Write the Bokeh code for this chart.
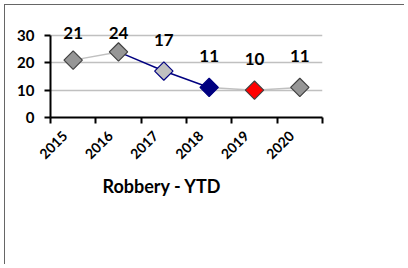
import numpy as np
from bokeh.plotting import figure
from bokeh.models import Range1d, FixedTicker, Title, CustomJSTickFormatter
from bokeh.core.properties import value
from bokeh.embed import file_html
from bokeh.resources import INLINE

years = ["2015", "2016", "2017", "2018", "2019", "2020"]
robbery = [21, 24, 17, 11, 10, 11]
y_ticks = [0, 10, 20, 30]

marker_fill = ["#969696", "#969696", "#C0C0C0", "#000080", "#FF0000", "#969696"]
marker_line = ["#404040", "#404040", "#000080", "#000080", "#404040", "#404040"]
segment_colors = ["#C0C0C0", "#000080", "#000080", "#C0C0C0", "#C0C0C0"]

FONT = "Lato"
n = len(years)
x = np.arange(n) + 0.5
vals = np.array(robbery, dtype=float)

W, H = 400, 260
p = figure(width=W, height=H, output_backend="svg", toolbar_location=None,
           x_range=Range1d(0, n), y_range=Range1d(0, 35.5),
           min_border_left=45, min_border_right=W - 317, min_border_top=15,
           min_border_bottom=H - 112,
           styles={"margin": "4px 0 0 4px",
                   "border-top": "1px solid #666666", "border-left": "1px solid #666666"})
p.outline_line_color = None
p.background_fill_color = "white"
p.border_fill_color = "white"

# x axis (labels sit slightly left of the category centre, as in the original)
xa = p.xaxis[0]
xa.ticker = FixedTicker(ticks=list(x - 0.18), minor_ticks=list(range(n + 1)))
xa.formatter = CustomJSTickFormatter(args=dict(labels=years),
                                     code="const l = labels[Math.floor(tick)]; return l === undefined ? '' : l;")
xa.major_tick_line_color = None
xa.minor_tick_line_color = "black"
xa.minor_tick_line_width = 2
xa.minor_tick_out = 6
xa.minor_tick_in = 0
xa.axis_line_color = "black"
xa.axis_line_width = 2
xa.major_label_orientation = np.pi / 4
xa.major_label_text_font = FONT
xa.major_label_text_font_style = "bold"
xa.major_label_text_font_size = "14px"
xa.major_label_text_color = "black"
xa.major_label_standoff = 10

# y axis
ya = p.yaxis[0]
ya.ticker = FixedTicker(ticks=y_ticks)
ya.bounds = (0, 30)
ya.major_tick_out = 6
ya.major_tick_in = 0
ya.major_tick_line_width = 2
ya.minor_tick_line_color = None
ya.axis_line_color = "black"
ya.axis_line_width = 2
ya.major_label_text_font = FONT
ya.major_label_text_font_style = "bold"
ya.major_label_text_font_size = "15px"
ya.major_label_text_color = "black"
ya.major_label_standoff = 10

p.xgrid.visible = False
p.ygrid.ticker = FixedTicker(ticks=y_ticks)
p.ygrid.grid_line_color = "#C0C0C0"
p.ygrid.grid_line_width = 1.5

p.segment(x0=x[:-1], y0=vals[:-1], x1=x[1:], y1=vals[1:],
          line_color=segment_colors, line_width=1.5)
p.scatter(x, vals, marker="square", size=13, angle=np.pi / 4,
          fill_color=marker_fill, line_color=marker_line, line_width=1.2)

label_y = np.minimum(vals + 11.5, 30.8)
p.text(x, label_y, text=[str(v) for v in robbery], text_align="center",
       text_baseline="middle", text_font=value(FONT), text_font_style="bold",
       text_font_size="17px", text_color="black")

p.add_layout(Title(text="Robbery - YTD", align="left", offset=52,
                   text_font=FONT, text_font_size="18px", text_font_style="bold",
                   text_color="black", standoff=12), "below")

open("out.html", "w").write(file_html(p, INLINE))
